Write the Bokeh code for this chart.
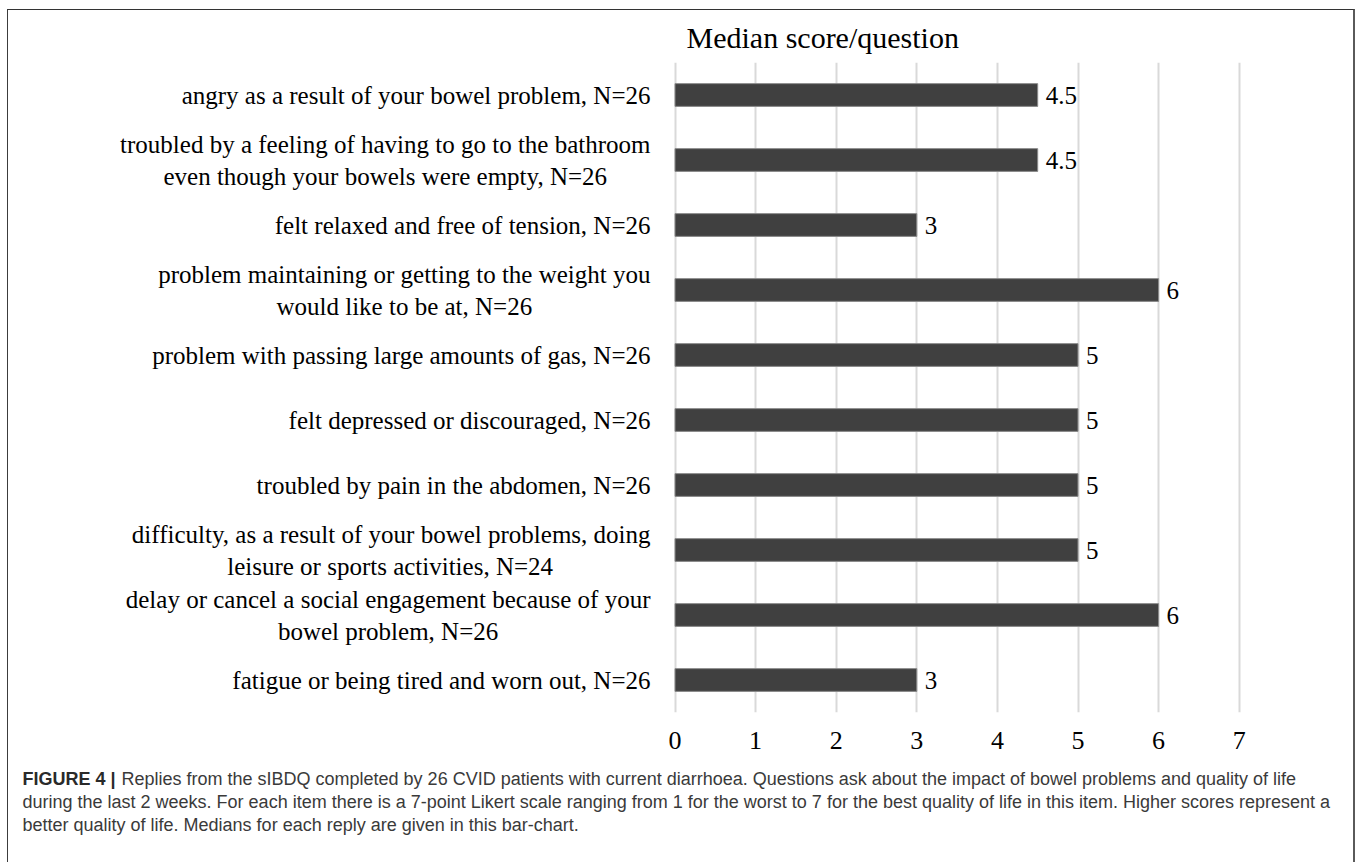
from bokeh.plotting import figure
from bokeh.layouts import column
from bokeh.models import FactorRange, Range1d, FixedTicker, Label, ColumnDataSource
from bokeh.embed import file_html
from bokeh.resources import INLINE
from bokeh.core.properties import value

# ---- data (top to bottom as shown) ----
questions = [
    "angry as a result of your bowel problem, N=26",
    "troubled by a feeling of having to go to the bathroom\neven though your bowels were empty, N=26",
    "felt relaxed and free of tension, N=26",
    "problem maintaining or getting to the weight you\nwould like to be at, N=26",
    "problem with passing large amounts of gas, N=26",
    "felt depressed or discouraged, N=26",
    "troubled by pain in the abdomen, N=26",
    "difficulty, as a result of your bowel problems, doing\nleisure or sports activities, N=24",
    "delay or cancel a social engagement because of your\nbowel problem, N=26",
    "fatigue or being tired and worn out, N=26",
]
medians = [4.5, 4.5, 3, 6, 5, 5, 5, 5, 6, 3]
x_ticks = [0, 1, 2, 3, 4, 5, 6, 7]
title_text = "Median score/question"
caption_bold = "FIGURE 4 |"
caption_lines = [
    "Replies from the sIBDQ completed by 26 CVID patients with current diarrhoea. Questions ask about the impact of bowel problems and quality of life",
    "during the last 2 weeks. For each item there is a 7-point Likert scale ranging from 1 for the worst to 7 for the best quality of life in this item. Higher scores represent a",
    "better quality of life. Medians for each reply are given in this bar-chart.",
]

value_labels = [("%g" % v) for v in medians]

SERIF = "Liberation Serif"
LABEL_PX = 25
GAP = 24.5          # px between label right edge and the value-0 line
UNIT = 80.6         # px per score unit
ZERO_X = 666.5      # canvas px of score 0
W = 1345
H = 750

# Times/Liberation Serif advance widths (per 1000 em) to centre wrapped lines
_tw = {" ": 250, ",": 250, ".": 250, "=": 564, "N": 722,
       "a": 444, "b": 500, "c": 444, "d": 500, "e": 444, "f": 333, "g": 500,
       "h": 500, "i": 278, "j": 278, "k": 500, "l": 278, "m": 778, "n": 500,
       "o": 500, "p": 500, "q": 500, "r": 333, "s": 389, "t": 278, "u": 500,
       "v": 500, "w": 722, "x": 500, "y": 500, "z": 444}


def text_width(s, px):
    return sum(_tw.get(c, 500) for c in s) * px / 1000.0


# label lines: first line right-aligned, following lines centred under it
r_src = dict(y=[], text=[], yo=[])
c_src = dict(y=[], text=[], yo=[], xo=[])
LINE_H = 32
for q in questions:
    lines = q.split("\n")
    n = len(lines)
    w1 = text_width(lines[0], LABEL_PX)
    for k, ln in enumerate(lines):
        yo = (k - (n - 1) / 2.0) * LINE_H
        if k == 0:
            r_src["y"].append(q); r_src["text"].append(ln); r_src["yo"].append(yo)
        else:
            c_src["y"].append(q); c_src["text"].append(ln); c_src["yo"].append(yo)
            c_src["xo"].append(-(GAP + w1 / 2.0))

# frame spans the full canvas width so the caption panel below lines up 1:1
x_start = -ZERO_X / UNIT
x_end = (W - ZERO_X) / UNIT

p = figure(
    width=W, height=H,
    y_range=FactorRange(factors=list(reversed(questions)), range_padding=0),
    x_range=Range1d(x_start, x_end),
    output_backend="svg", toolbar_location=None,
    min_border_left=0, min_border_right=0,
    min_border_top=52, min_border_bottom=H - 52 - 650,
    title=title_text, y_axis_location=None,
)

p.title.align = "left"
p.title.offset = ZERO_X + 11.5
p.title.text_font = SERIF
p.title.text_font_size = "30px"
p.title.text_font_style = "normal"
p.title.text_color = "#000000"
p.title.standoff = 17

p.hbar(y=questions, right=medians, left=0, height=0.35,
       fill_color="#404040", line_color="#8a8a8a", line_width=1)
p.text(x=medians, y=questions, text=value_labels, x_offset=8,
       text_baseline="middle", text_align="left",
       text_font=value(SERIF), text_font_size="25px", text_color="#000000")

p.text(x=0, y="y", text="text", y_offset="yo", x_offset=-GAP,
       source=ColumnDataSource(r_src), text_align="right", text_baseline="middle",
       text_font=value(SERIF), text_font_size="%dpx" % LABEL_PX, text_color="#000000")
p.text(x=0, y="y", text="text", y_offset="yo", x_offset="xo",
       source=ColumnDataSource(c_src), text_align="center", text_baseline="middle",
       text_font=value(SERIF), text_font_size="%dpx" % LABEL_PX, text_color="#000000")

p.outline_line_color = None
p.ygrid.grid_line_color = None
p.xgrid.grid_line_color = "#d9d9d9"
p.xgrid.grid_line_width = 2
p.xgrid.bounds = (0, 7)
p.xgrid.ticker = FixedTicker(ticks=x_ticks)

p.xaxis.ticker = FixedTicker(ticks=x_ticks)
p.xaxis.axis_line_color = None
p.xaxis.major_tick_line_color = None
p.xaxis.minor_tick_line_color = None
p.xaxis.major_label_text_font = SERIF
p.xaxis.major_label_text_font_size = "26px"
p.xaxis.major_label_text_color = "#000000"
p.xaxis.major_label_standoff = 13

p.background_fill_color = "white"
p.border_fill_color = "white"

# ---- caption panel ----
CH = 102
cap = figure(width=W, height=CH, x_range=Range1d(0, W), y_range=Range1d(CH, 0),
             output_backend="svg", toolbar_location=None,
             min_border=0, x_axis_location=None, y_axis_location=None)
cap.grid.visible = False
cap.outline_line_color = None
cap.background_fill_color = "white"
cap.border_fill_color = "white"

CAP_FONT = "Liberation Sans"
CAP_SIZE = "18px"
cap_y = [18, 41, 64]
cap.add_layout(Label(x=14, y=cap_y[0], text=caption_bold, text_font=CAP_FONT,
                     text_font_size=CAP_SIZE, text_font_style="bold",
                     text_color="#2a2a2a", text_baseline="middle"))
cap.add_layout(Label(x=113, y=cap_y[0], text=caption_lines[0], text_font=CAP_FONT,
                     text_font_size=CAP_SIZE, text_color="#3a3a3a",
                     text_baseline="middle"))
for line, yy in zip(caption_lines[1:], cap_y[1:]):
    cap.add_layout(Label(x=14, y=yy, text=line, text_font=CAP_FONT,
                         text_font_size=CAP_SIZE, text_color="#3a3a3a",
                         text_baseline="middle"))

root = column(p, cap, spacing=0, styles={
    "margin-left": "7px", "margin-top": "9px",
    "border-left": "1px solid #3c3c3c", "border-top": "1px solid #333333",
    "border-right": "2px solid #5a5a5a",
})

open("out.html", "w").write(file_html(root, INLINE))
